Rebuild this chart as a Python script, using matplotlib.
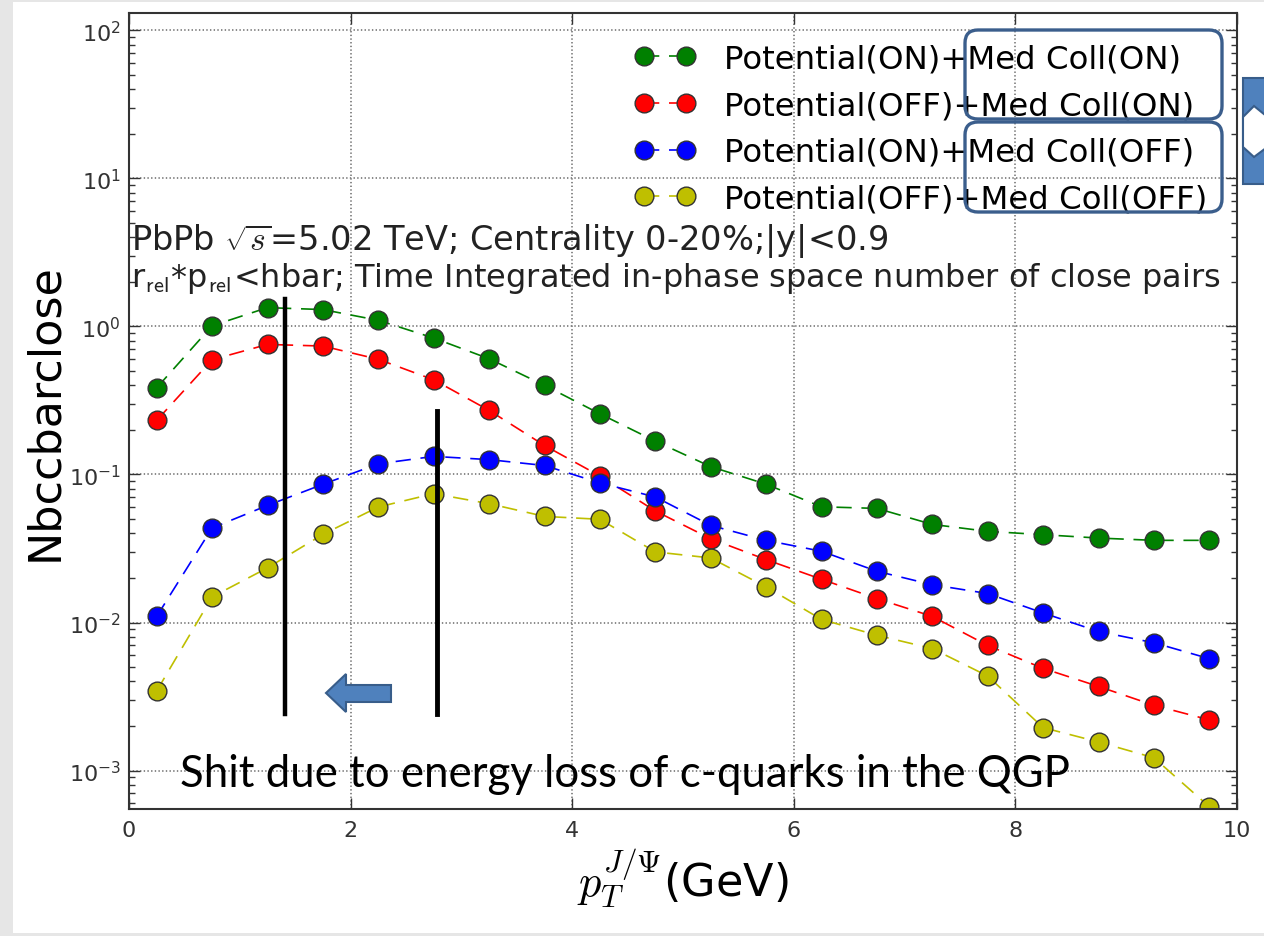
import matplotlib
matplotlib.use('Agg')
import matplotlib.pyplot as plt
from matplotlib.patches import FancyBboxPatch, Polygon, Rectangle
from matplotlib.lines import Line2D
from matplotlib.transforms import Affine2D

plt.rcParams['mathtext.fontset'] = 'cm'
plt.rcParams['lines.scale_dashes'] = False

# ---------------- data ----------------
pt = [0.25, 0.75, 1.25, 1.75, 2.25, 2.75, 3.25, 3.75, 4.25, 4.75,
      5.25, 5.75, 6.25, 6.75, 7.25, 7.75, 8.25, 8.75, 9.25, 9.75]
pot_on_coll_on = [0.385, 1.01, 1.34, 1.30, 1.10, 0.835, 0.605, 0.40, 0.257, 0.168,
                  0.113, 0.086, 0.0605, 0.059, 0.046, 0.0413, 0.0392, 0.0372, 0.0359, 0.0359]
pot_off_coll_on = [0.232, 0.596, 0.756, 0.737, 0.60, 0.436, 0.271, 0.157, 0.0977, 0.0567,
                   0.0368, 0.0266, 0.0196, 0.0145, 0.0110, 0.0070, 0.0049, 0.0037, 0.00276, 0.0022]
pot_on_coll_off = [0.011, 0.0435, 0.0618, 0.0858, 0.118, 0.1325, 0.126, 0.115, 0.0877, 0.0705,
                   0.0453, 0.0359, 0.0303, 0.0222, 0.0180, 0.0157, 0.0116, 0.0087, 0.0073, 0.0057]
pot_off_coll_off = [0.00345, 0.0149, 0.0234, 0.0394, 0.0603, 0.0742, 0.0635, 0.0521, 0.0498, 0.030,
                    0.0273, 0.0174, 0.0105, 0.0082, 0.00667, 0.00435, 0.00195, 0.00156, 0.00122, 0.00057]
labels = ['Potential(ON)+Med Coll(ON)', 'Potential(OFF)+Med Coll(ON)',
          'Potential(ON)+Med Coll(OFF)', 'Potential(OFF)+Med Coll(OFF)']
colors = ['#008000', '#ff0000', '#0000ff', '#bfbf00']
xticks = [0, 2, 4, 6, 8, 10]

# ---------------- figure ----------------
W, H = 1264, 937
fig = plt.figure(figsize=(W / 100, H / 100), dpi=100)
# pixel transform (image coordinates, y downward)
PIX = Affine2D().scale(1 / 100, -1 / 100).translate(0, H / 100) + fig.dpi_scale_trans

# slide-like grey border
for (x, y, w, h) in [(0, 0, 13, H), (0, 0, W, 3), (0, H - 3, W, 3)]:
    fig.patches.append(Rectangle((x, y), w, h, transform=PIX, facecolor='#e6e6e6',
                                 edgecolor='none', zorder=0))

ax = fig.add_axes([129 / W, 1 - 810 / H, 1108 / W, 796 / H])

for vals, c, lab in zip([pot_on_coll_on, pot_off_coll_on, pot_on_coll_off, pot_off_coll_off],
                        colors, labels):
    ax.plot(pt, vals, linestyle='--', dashes=(11, 7), color=c, lw=1.2,
            marker='o', ms=13.5, mfc=c, mec='#333333', mew=1.0, label=lab)

ax.set_yscale('log')
ax.set_xlim(0, 10)
ax.set_ylim(5.5e-4, 131)
ax.set_xticks(xticks)
ax.grid(True, which='major', linestyle=':', color='0.5', lw=1.3)
ax.tick_params(which='both', direction='in', top=True, right=True, labelsize=16, colors='#333333')
ax.tick_params(which='major', length=8, width=1)
ax.tick_params(which='minor', length=4, width=1)
ax.tick_params(axis='y', pad=6)
ax.tick_params(axis='x', pad=8)
for s in ax.spines.values():
    s.set_linewidth(1.5)
    s.set_color('#333333')

ax.set_ylabel('Nbccbarclose', fontsize=32, labelpad=2)
ax.set_xlabel(r'$p_T^{J/\Psi}$(GeV)', fontsize=32, labelpad=4)

leg = ax.legend(loc='upper right', bbox_to_anchor=(0.973, 0.962), frameon=False,
                fontsize=23.3, numpoints=2, handlelength=1.9, handletextpad=0.85,
                labelspacing=0.49, borderaxespad=0, borderpad=0)

ax.text(0.002, 0.702, r'PbPb $\sqrt{s}$=5.02 TeV; Centrality 0-20%;|y|<0.9',
        transform=ax.transAxes, fontsize=24.2, va='baseline', ha='left', color='#222222')
ax.text(0.002, 0.657,
        r'r$_{\mathsf{rel}}$*p$_{\mathsf{rel}}$<hbar; Time Integrated in-phase space number of close pairs',
        transform=ax.transAxes, fontsize=23, va='baseline', ha='left', color='#222222')

# ---------------- slide overlays ----------------
fig.lines.append(Line2D([285, 285], [300, 715], transform=PIX, color='black', lw=3.2))
fig.lines.append(Line2D([436.5, 436.5], [412, 715], transform=PIX, color='black', lw=3.5))

arrow_pts = [(326, 694), (346, 675), (346, 686), (391, 686), (391, 703), (346, 703), (346, 713)]
fig.patches.append(Polygon(arrow_pts, closed=True, transform=PIX, facecolor='#4F81BD',
                           edgecolor='#385D8A', lw=1.5, zorder=5))

for (x0, y0, x1, y1) in [(965, 31, 1222, 120), (965, 123, 1222, 213)]:
    fig.patches.append(FancyBboxPatch((x0, y0), x1 - x0, y1 - y0,
                                      boxstyle='round,pad=0,rounding_size=13',
                                      transform=PIX, facecolor='none',
                                      edgecolor='#3B5E8C', lw=2.4, zorder=6))

# partially visible up/down block arrow at right edge
fig.patches.append(Polygon([(1243, 79), (1270, 79), (1270, 185), (1243, 185)], closed=True,
                           transform=PIX, facecolor='#4F81BD', edgecolor='#385D8A', lw=1.5, zorder=5))
fig.patches.append(Polygon([(1243, 118), (1254, 107), (1270, 120), (1270, 146), (1254, 158), (1243, 148)],
                           closed=True, transform=PIX, facecolor='white', edgecolor='#385D8A',
                           lw=1.5, zorder=6))

fig.text(180 / W, 1 - 787 / H, 'Shit due to energy loss of c-quarks in the QGP',
         fontsize=31.5, family=['Lato', 'DejaVu Sans'], color='black', va='baseline', ha='left')

fig.savefig('out.png', dpi=100)
